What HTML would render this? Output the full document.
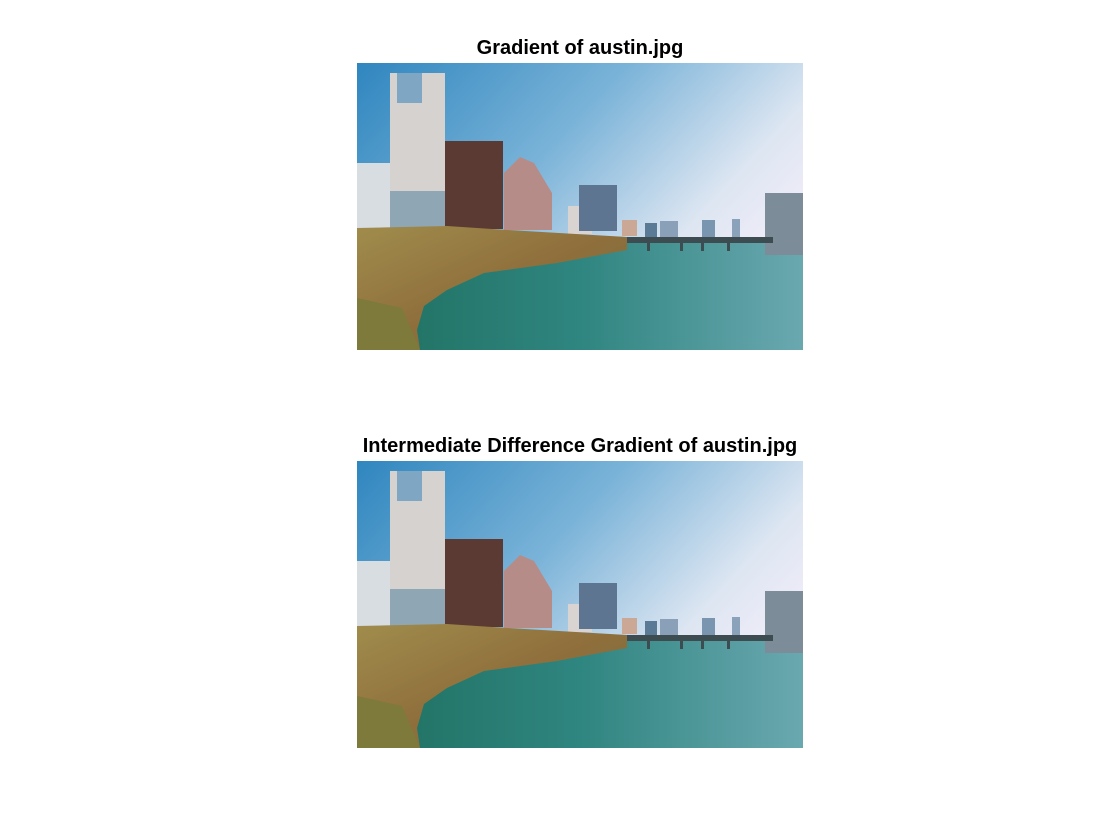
<!DOCTYPE html>
<html><head><meta charset="utf-8"><style>
body{margin:0;background:#fff;width:1120px;height:840px;position:relative;overflow:hidden;font-family:"Liberation Sans",sans-serif}
.t{position:absolute;left:0;width:1160px;text-align:center;font-weight:bold;font-size:20px;color:#000}
svg{position:absolute;left:0;top:0}
</style></head><body>
<div class="t" style="top:37px">Gradient of austin.jpg</div>
<div class="t" style="top:435px">Intermediate Difference Gradient of austin.jpg</div>
<svg width="1120" height="840">
<defs>
<linearGradient id="sky" x1="0" y1="0" x2="1" y2="0.6">
<stop offset="0" stop-color="#2f86bf"/><stop offset="0.45" stop-color="#7ab3d8"/><stop offset="0.8" stop-color="#dde6f2"/><stop offset="1" stop-color="#f4eefa"/></linearGradient>
<linearGradient id="water" x1="0" y1="0" x2="1" y2="0">
<stop offset="0" stop-color="#1e6f5e"/><stop offset="0.5" stop-color="#2f8580"/><stop offset="1" stop-color="#6aa8b0"/></linearGradient>
<linearGradient id="trees" x1="0" y1="0" x2="1" y2="1">
<stop offset="0" stop-color="#a08c4c"/><stop offset="0.5" stop-color="#8f6f3c"/><stop offset="1" stop-color="#70703a"/></linearGradient>
<symbol id="scene" viewBox="0 0 446 287" width="446" height="287">
<rect width="446" height="287" fill="url(#sky)"/>
<rect y="175" width="446" height="112" fill="url(#water)"/>
<rect x="0" y="100" width="33" height="70" fill="#d8dde2"/>
<rect x="33" y="10" width="55" height="160" fill="#d6d2d0"/>
<rect x="40" y="10" width="25" height="30" fill="#7fa6c2"/>
<rect x="33" y="128" width="55" height="40" fill="#8fa7b5"/>
<rect x="88" y="78" width="58" height="88" fill="#5a3a32"/>
<polygon points="147,167 147,110 163,94 177,100 195,130 195,167" fill="#b58c88"/>
<rect x="211" y="143" width="24" height="28" fill="#d9d4d2"/>
<rect x="222" y="122" width="38" height="46" fill="#5d7590"/>
<rect x="265" y="157" width="15" height="16" fill="#caa895"/>
<rect x="288" y="160" width="12" height="14" fill="#5a7a95"/>
<rect x="303" y="158" width="18" height="16" fill="#8aa0b8"/>
<rect x="345" y="157" width="13" height="17" fill="#7a95b0"/>
<rect x="375" y="156" width="8" height="18" fill="#8aa3bb"/>
<rect x="408" y="130" width="38" height="62" fill="#7c8c98"/>
<rect x="268" y="174" width="148" height="6" fill="#3c4c50"/>
<rect x="290" y="178" width="3" height="10" fill="#3c4c50"/><rect x="323" y="178" width="3" height="10" fill="#3c4c50"/><rect x="344" y="178" width="3" height="10" fill="#3c4c50"/><rect x="370" y="178" width="3" height="10" fill="#3c4c50"/>
<polygon points="0,165 90,163 150,167 270,174 270,187 200,200 127,210 90,227 67,243 60,267 63,287 0,287" fill="url(#trees)"/>
<polygon points="0,235 45,245 63,287 0,287" fill="#7d7a3c"/>
</symbol>
</defs>
<use href="#scene" x="357" y="63"/>
<use href="#scene" x="357" y="461"/>
</svg>
</body></html>
